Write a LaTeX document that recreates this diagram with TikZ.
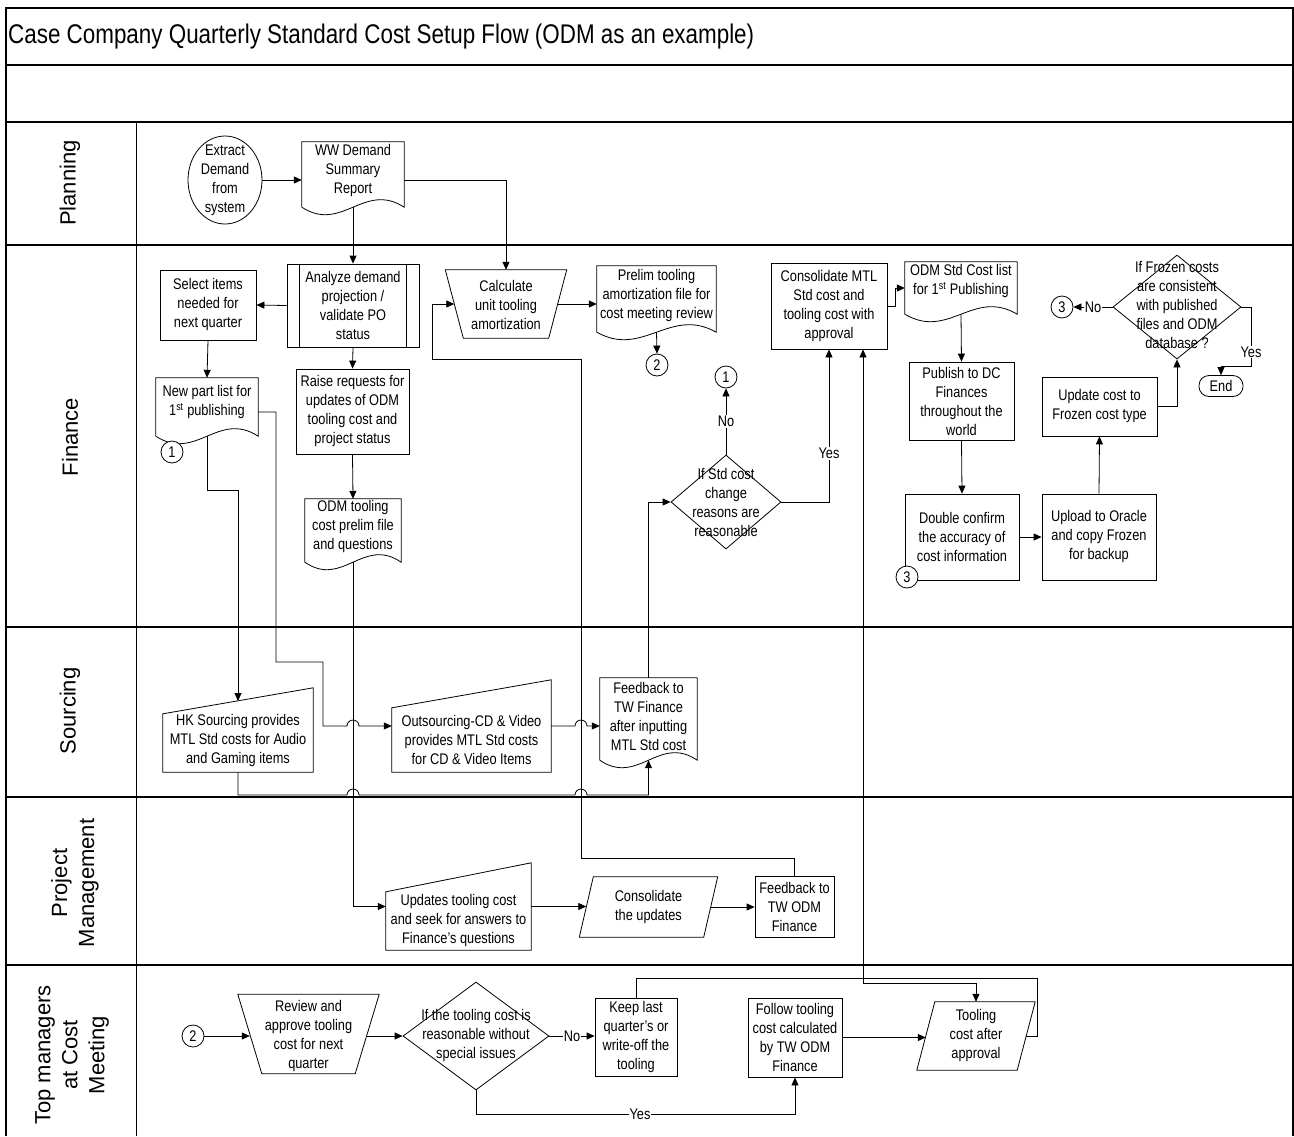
\documentclass[tikz,border=0pt]{standalone}
\usepackage{fontspec}
\setmainfont{Liberation Sans}[FakeStretch=0.83]
\newfontfamily\lanefont{Liberation Sans}
\newfontfamily\titlefont{Liberation Sans}[FakeStretch=0.83]
\usetikzlibrary{arrows.meta,shapes.geometric,calc}

% document shape: straight top and sides, wavy bottom
\newcommand\docoutline[2]{%
  \draw[outline] (#1.south west) -- (#1.north west) -- (#1.north east) -- (#1.south east)
    .. controls ([xshift=-#2,yshift=26pt]#1.south east) and ([xshift=#2,yshift=-26pt]#1.south west) .. (#1.south west);}
% manual input: top edge falls towards the left
\newcommand\manualin[2]{%
  \draw[outline] (#1.south west) -- ([yshift=-#2]#1.north west) -- (#1.north east) -- (#1.south east) -- cycle;}
% manual operation: wider at the top
\newcommand\manualop[2]{%
  \draw[outline] ([xshift=-#2]#1.north west) -- ([xshift=#2]#1.north east) -- ([xshift=-#2]#1.south east) -- ([xshift=#2]#1.south west) -- cycle;}
% data (parallelogram) leaning right
\newcommand\dataout[2]{%
  \draw[outline] ([xshift=#2]#1.north west) -- ([xshift=#2]#1.north east) -- ([xshift=-#2]#1.south east) -- ([xshift=-#2]#1.south west) -- cycle;}

\tikzset{
  base/.style={font=\fontsize{15.4}{19}\selectfont, align=center, inner sep=0pt},
  txt/.style={base},
  proc/.style={base, draw, rectangle, line width=0.8pt},
  bbox/.style={rectangle, draw=none, inner sep=0pt},
  conn/.style={base, draw, circle, minimum size=22pt, line width=0.8pt},
  decide/.style={diamond, draw, inner sep=0pt, line width=0.8pt},
  outline/.style={line width=0.8pt},
  flow/.style={line width=0.8pt, -{Triangle[length=8pt,width=7pt]}},
  biflow/.style={line width=0.8pt, {Triangle[length=8pt,width=7pt]}-{Triangle[length=8pt,width=7pt]}},
  link/.style={line width=0.8pt},
  lbl/.style={base, fill=white, inner sep=1pt},
  lane/.style={line width=1.6pt},
  lanelbl/.style={font=\lanefont\fontsize{22}{27}\selectfont, align=center, inner sep=0pt, rotate=90},
}

\begin{document}
\begin{tikzpicture}[x=1pt,y=-1pt]
\useasboundingbox (0,0) rectangle (1294,1136);

% ---------- frame and swimlanes ----------
\draw[line width=1.2pt] (6,1136) -- (6,8) -- (1293,8) -- (1293,1136);
\foreach \yy in {65,122,245,627,797,965}
  \draw[lane] (6,\yy) -- (1293,\yy);
\draw[line width=0.9pt] (136,122) -- (136,1136);

\node[anchor=west, font=\titlefont\fontsize{27}{30}\selectfont, inner sep=0pt] (title) at (8,37)
  {Case Company Quarterly Standard Cost Setup Flow (ODM as an example)};

\node[lanelbl] (lane-plan) at (70,183) {Planning};
\node[lanelbl] (lane-fin) at (70,437) {Finance};
\node[lanelbl] (lane-src) at (70,711) {Sourcing};
\node[lanelbl] (lane-pm) at (75,883) {Project\\Management};
\node[lanelbl] (lane-top) at (72,1055) {Top managers\\at Cost\\Meeting};

% ---------- Planning ----------
\node[ellipse, draw, line width=0.8pt, inner sep=0pt, minimum width=74pt, minimum height=88pt] (extract) at (225,180) {};
\node[txt] (extract-t) at (225,180) {Extract\\Demand\\from\\system};

\node[bbox, minimum width=102pt, minimum height=65pt] (ww) at (353,174.5) {};
\docoutline{ww}{40pt}
\node[txt] (ww-t) at (353,171) {WW Demand\\Summary\\Report};

% ---------- Finance ----------
\node[proc, minimum width=96pt, minimum height=70pt] (select) at (208,305) {Select items\\needed for\\next quarter};
\node[proc, minimum width=132pt, minimum height=83pt] (analyze) at (353,305.5) {Analyze demand\\projection /\\validate PO\\status};
\draw[outline] ([xshift=13pt]analyze.north west) -- ([xshift=13pt]analyze.south west);
\draw[outline] ([xshift=-13pt]analyze.north east) -- ([xshift=-13pt]analyze.south east);
\node[proc, minimum width=113pt, minimum height=85pt] (raise) at (352.5,411.5) {Raise requests for\\updates of ODM\\tooling cost and\\project status};

\node[bbox, minimum width=102pt, minimum height=58pt] (newpart) at (207,407) {};
\docoutline{newpart}{40pt}
\node[txt] (newpart-t) at (207,402) {New part list for\\1\textsuperscript{st} publishing};
\node[conn, fill=white] (c1a) at (172,452) {1};

\node[bbox, minimum width=96pt, minimum height=63pt] (odmtool) at (353,530.5) {};
\docoutline{odmtool}{38pt}
\node[txt] (odmtool-t) at (353,527) {ODM tooling\\cost prelim file\\and questions};

\node[bbox, minimum width=103pt, minimum height=68pt] (calc) at (506,304) {};
\manualop{calc}{9pt}
\node[txt] (calc-t) at (506,305) {Calculate\\unit tooling\\amortization};

\node[bbox, minimum width=119pt, minimum height=66pt] (prelim) at (656.5,299) {};
\docoutline{prelim}{46pt}
\node[txt] (prelim-t) at (656.5,296) {Prelim tooling\\amortization file for\\cost meeting review};
\node[conn] (c2a) at (657,365) {2};

\node[decide, minimum width=110pt, minimum height=94pt] (stdq) at (726,502) {};
\node[txt] (stdq-t) at (726,502) {If Std cost\\change\\reasons are\\reasonable};
\node[conn] (c1b) at (726,377) {1};

\node[proc, minimum width=116pt, minimum height=86pt] (consol) at (829,306) {Consolidate MTL\\Std cost and\\tooling cost with\\approval};

\node[bbox, minimum width=112pt, minimum height=52pt] (odmstd) at (961,288) {};
\docoutline{odmstd}{44pt}
\node[txt] (odmstd-t) at (961,281) {ODM Std Cost list\\for 1\textsuperscript{st} Publishing};

\node[proc, minimum width=105pt, minimum height=78pt] (publish) at (961.5,401) {Publish to DC\\Finances\\throughout the\\world};
\node[proc, minimum width=114pt, minimum height=86pt] (double) at (962,537) {Double confirm\\the accuracy of\\cost information};
\node[conn, fill=white] (c3a) at (907,577) {3};
\node[proc, minimum width=114pt, minimum height=86pt] (upload) at (1099,537) {Upload to Oracle\\and copy Frozen\\for backup};
\node[proc, minimum width=115pt, minimum height=59pt] (update) at (1099.5,406.5) {Update cost to\\Frozen cost type};

\node[decide, minimum width=128pt, minimum height=104pt] (frozen) at (1177,307) {};
\node[txt] (frozen-t) at (1177,305) {If Frozen costs\\are consistent\\with published\\files and ODM\\database ?};
\node[conn] (c3b) at (1062,307) {3};
\node[base, draw, line width=0.8pt, rounded corners=10pt, minimum width=44pt, minimum height=21pt] (end) at (1221,386) {End};

% ---------- Sourcing ----------
\node[bbox, minimum width=150pt, minimum height=84pt] (hk) at (238,730) {};
\manualin{hk}{26pt}
\node[txt] (hk-t) at (238,741) {HK Sourcing provides\\MTL Std costs for Audio\\and Gaming items};
\coordinate (hkin) at (238,701);

\node[bbox, minimum width=159pt, minimum height=92pt] (out) at (471.5,726) {};
\manualin{out}{28pt}
\node[txt] (out-t) at (471.5,740) {Outsourcing-CD \& Video\\provides MTL Std costs\\for CD \& Video Items};

\node[bbox, minimum width=97pt, minimum height=82pt] (fb1) at (648.5,719) {};
\docoutline{fb1}{38pt}
\node[txt] (fb1-t) at (648.5,716) {Feedback to\\TW Finance\\after inputting\\MTL Std cost};

% ---------- Project Management ----------
\node[bbox, minimum width=145pt, minimum height=87pt] (upd) at (458.5,906.5) {};
\manualin{upd}{29pt}
\node[txt] (upd-t) at (458.5,921) {Updates tooling cost\\and seek for answers to\\Finance’s questions};

\node[bbox, minimum width=124pt, minimum height=60pt] (conupd) at (648.5,907) {};
\dataout{conupd}{7pt}
\node[txt] (conupd-t) at (648.5,907) {Consolidate\\the updates};

\node[proc, minimum width=79pt, minimum height=61pt] (feedodm) at (794.5,906.5) {Feedback to\\TW ODM\\Finance};

% ---------- Top managers at Cost Meeting ----------
\node[conn] (c2b) at (193,1036) {2};
\node[bbox, minimum width=117pt, minimum height=79pt] (review) at (308.5,1034) {};
\manualop{review}{12pt}
\node[txt] (review-t) at (308.5,1036) {Review and\\approve tooling\\cost for next\\quarter};

\node[decide, minimum width=146pt, minimum height=108pt] (q2) at (476,1036) {};
\node[txt] (q2-t) at (476,1036) {If the tooling cost is\\reasonable without\\special issues};

\node[proc, minimum width=82pt, minimum height=78pt] (keep) at (636,1037) {Keep last\\quarter's or\\write-off the\\tooling};
\node[proc, minimum width=94pt, minimum height=79pt] (follow) at (795,1037.5) {Follow tooling\\cost calculated\\by TW ODM\\Finance};

\node[bbox, minimum width=100pt, minimum height=68pt] (tooling) at (976,1036) {};
\dataout{tooling}{9pt}
\node[txt] (tooling-t) at (976,1036) {Tooling\\cost after\\approval};

% ---------- connectors ----------
\draw[flow] (extract.east) -- (extract.east -| ww.west);
\draw[flow] (ww.east |- extract.east) -| (calc.north);
\draw[flow] (ww.south) -- (analyze.north);
\draw[flow] (analyze.west) -- (select.east);
\draw[flow] (analyze.south) -- (raise.north);
\draw[flow] (raise.south) -- (odmtool.north);
\draw[flow] (select.south) -- (newpart.north);

% new part list to outsourcing, hopping over the tooling line
\draw[flow] ([yshift=-5pt]newpart.east) -- (276,412) -- (276,662) -- (323,662) -- (323,726)
  -- (347,726) arc[start angle=180, end angle=0, radius=6pt] -- (out.west);
\draw[flow] (newpart.south) -- (207,490) -| (hkin);

% HK sourcing to feedback, hopping over two vertical lines
\draw[flow] (hk.south) -- (238,795) -- (347,795) arc[start angle=180, end angle=0, radius=6pt]
  -- (575,795) arc[start angle=180, end angle=0, radius=6pt] -- (648.5,795) -- (fb1.south);
\draw[flow] (out.east) -- (575,726) arc[start angle=180, end angle=0, radius=6pt] -- (out.east -| fb1.west);
\draw[flow] (fb1.north) |- (stdq.west);

\draw[flow] (stdq.north) -- node[lbl] {No} (c1b.south);
\draw[flow] (stdq.east) -| node[lbl, pos=0.66] {Yes} (consol.south);

\draw[flow] (calc.east) -- (calc.east -| prelim.west);
\draw[flow] (prelim.south) -- (c2a.north);

\draw[flow] (consol.east) -- (895,306) |- (odmstd.west);
\draw[flow] (odmstd.south) -- (publish.north);
\draw[flow] (publish.south) -- (double.north);
\draw[flow] (double.east) -- (upload.west);
\draw[flow] (upload.north) -- (update.south);
\draw[flow] (update.east) -| (frozen.south);
\draw[flow] (frozen.west) -- node[lbl] {No} (frozen.west -| c3b.east);
\coordinate (yesbend) at (1251,366);
\draw[flow] (frozen.east) -| (yesbend) -| (end.north);
\node[lbl] (yes-end) at (1251,352) {Yes};

% feedback from project management back to the amortization step
\draw[flow] (feedodm.north) |- (581,858) |- (432,359) |- (calc.west);
\draw[flow] (odmtool.south) |- (upd.west);
\draw[flow] (upd.east) -- (upd.east -| conupd.west);
\draw[flow] (conupd.east) -- (conupd.east -| feedodm.west);

\draw[flow] (c2b.east) -- (c2b.east -| review.west);
\draw[flow] (review.east |- q2.west) -- (q2.west);
\draw[flow] (q2.east) -- node[lbl] {No} (q2.east -| keep.west);
\draw[flow] (q2.south) |- node[lbl, pos=0.757] {Yes} ([yshift=-37pt]follow.south) -- (follow.south);
\draw[flow] (follow.east) -- (follow.east -| tooling.west);

\coordinate (keeptop) at (1037,978);
\draw[link] (keep.north) |- (keeptop) |- (tooling.east);
\coordinate (approvalbend) at (863,983);
\draw[biflow] (tooling.north) |- (approvalbend) -- (approvalbend |- consol.south);

\end{tikzpicture}
\end{document}
